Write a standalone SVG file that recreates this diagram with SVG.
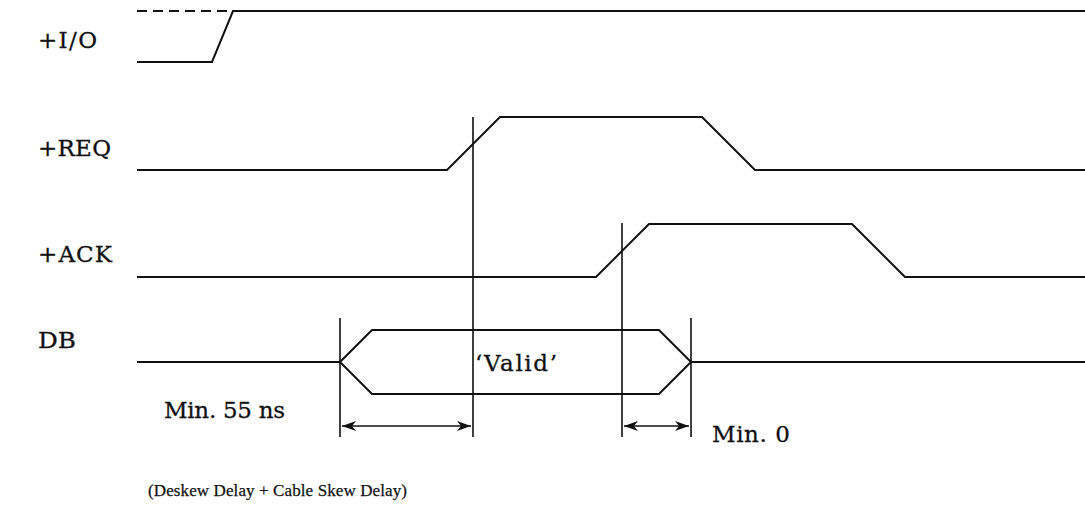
<svg xmlns="http://www.w3.org/2000/svg" width="1085" height="509" viewBox="0 0 1085 509">
<defs>
<style>
.sig{fill:none;stroke:#111;stroke-width:2;stroke-linejoin:miter}
.ref{fill:none;stroke:#111;stroke-width:1.6}
.dim{fill:none;stroke:#111;stroke-width:1.6}
text{font-family:'DejaVu Serif','Liberation Serif',serif;fill:#111;stroke:#111;stroke-width:0.3}
.lbl{font-size:23px}
.sm{font-family:'Liberation Serif','DejaVu Serif',serif;font-size:17px;stroke-width:0.25}
</style>
<marker id="ah" viewBox="0 0 14 10" refX="14" refY="5" markerWidth="14" markerHeight="10" markerUnits="userSpaceOnUse" orient="auto-start-reverse">
<path d="M0,0 L14,5 L0,10 L4,5 Z" fill="#111"/>
</marker>
</defs>
<rect width="1085" height="509" fill="#fff"/>
<g id="io">
<text class="lbl" font-family="DejaVu Serif, serif" x="38" y="48" textLength="59" lengthAdjust="spacing">+I/O</text>
<path class="sig" d="M137,11 H233" stroke-dasharray="10,6"/>
<path class="sig" d="M137,62 H212 L233,11 H1085"/>
</g>
<g id="req">
<text class="lbl" font-family="DejaVu Serif, serif" x="38" y="156" textLength="73" lengthAdjust="spacing">+REQ</text>
<path class="sig" d="M137,170 H447 L500,117 H702 L755,170 H1085"/>
</g>
<g id="ack">
<text class="lbl" font-family="DejaVu Serif, serif" x="38" y="262" textLength="74" lengthAdjust="spacing">+ACK</text>
<path class="sig" d="M137,277 H596 L649,224 H852 L905,277 H1085"/>
</g>
<g id="db">
<text class="lbl" font-family="DejaVu Serif, serif" x="38" y="348" textLength="38" lengthAdjust="spacingAndGlyphs">DB</text>
<path class="sig" d="M137,362 H340 M340,362 L372,330 H659 L691,362 L659,394 H372 Z M691,362 H1085"/>
<text class="lbl" font-family="DejaVu Serif, serif" x="516" y="371" text-anchor="middle" textLength="82" lengthAdjust="spacing">‘Valid’</text>
</g>
<g id="connectors">
<path class="ref" d="M473,117 V437 M622,223 V437 M340,318 V437 M691,318 V437"/>
<path class="dim" d="M342,426 H471" marker-start="url(#ah)" marker-end="url(#ah)"/>
<path class="dim" d="M624,426 H689" marker-start="url(#ah)" marker-end="url(#ah)"/>
</g>
<g id="labels">
<text class="lbl" font-family="DejaVu Serif, serif" x="164" y="418" textLength="121" lengthAdjust="spacing">Min. 55 ns</text>
<text class="lbl" font-family="DejaVu Serif, serif" x="712" y="442" textLength="78" lengthAdjust="spacing">Min. 0</text>
<text class="sm" font-family="Liberation Serif, serif" x="148" y="496" textLength="259" lengthAdjust="spacing">(Deskew Delay + Cable Skew Delay)</text>
</g>
</svg>
